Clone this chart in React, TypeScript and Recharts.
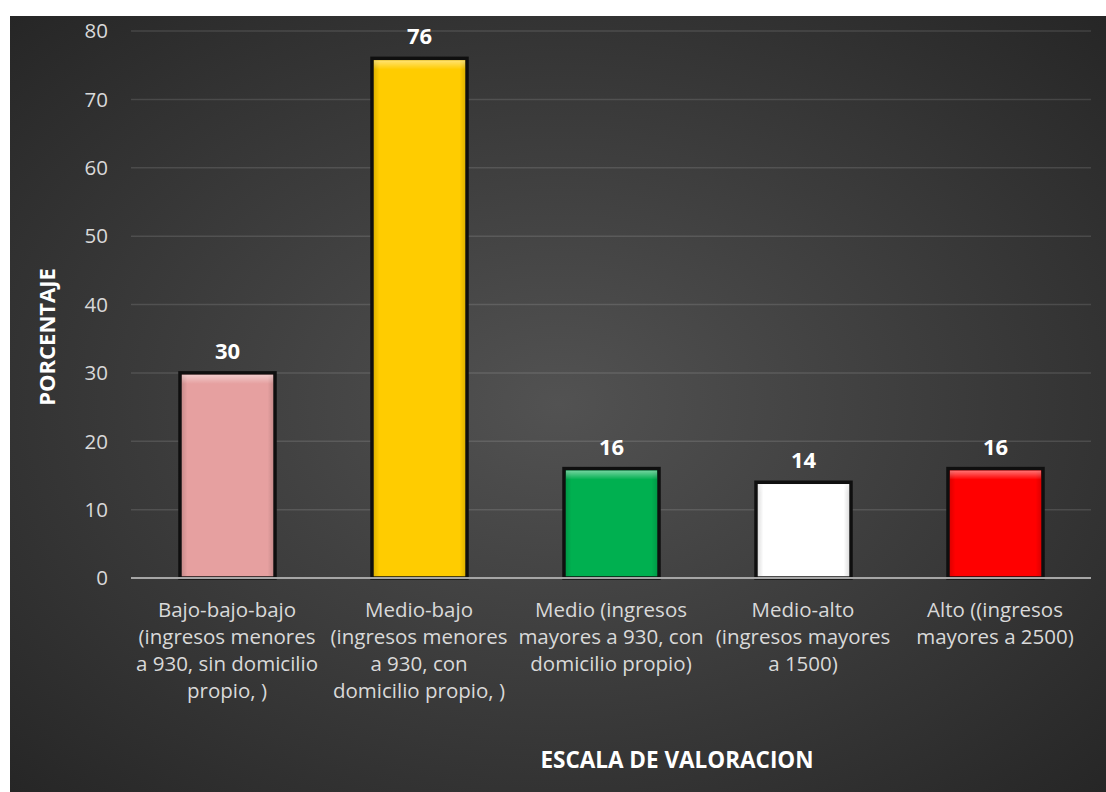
import React from 'react';
import { BarChart, Bar, XAxis, YAxis, CartesianGrid, Cell, LabelList, Label } from 'recharts';

const categories = ['Bajo-bajo-bajo', 'Medio-bajo', 'Medio', 'Medio-alto', 'Alto'];
const tickLines: string[][] = [
  ['Bajo-bajo-bajo', '(ingresos menores', 'a 930, sin domicilio', 'propio, )'],
  ['Medio-bajo', '(ingresos menores', 'a 930, con', 'domicilio propio, )'],
  ['Medio (ingresos', 'mayores a 930, con', 'domicilio propio)'],
  ['Medio-alto', '(ingresos mayores', 'a 1500)'],
  ['Alto ((ingresos', 'mayores a 2500)'],
];
const values = [30, 76, 16, 14, 16];
const barColors = ['#E6A0A0', '#FFCC00', '#00B050', '#FFFFFF', '#FF0000'];
const yTicks = [0, 10, 20, 30, 40, 50, 60, 70, 80];
const xTitle = 'ESCALA DE VALORACION';
const yTitle = 'PORCENTAJE';

const data = categories.map((c, i) => ({ name: c, value: values[i] }));

const FONT = '"Open Sans", "DejaVu Sans", sans-serif';

const XTick = (props: any) => {
  const { x, y, payload } = props;
  const idx = categories.indexOf(payload.value);
  const lines = tickLines[idx] || [payload.value];
  return (
    <text x={x} y={y} textAnchor="middle" fill="#d9d9d9" fontSize={20.5} fontFamily={FONT}>
      {lines.map((l, i) => (
        <tspan key={i} x={x} dy={i === 0 ? 39 : 27}>
          {l}
        </tspan>
      ))}
    </text>
  );
};

const BevelBar = (props: any) => {
  const { x, y, width, height, fill } = props;
  if (!width || !height) return null;
  return (
    <g>
      <rect x={x} y={y} width={width} height={height} fill={fill} stroke="#0f0f0f" strokeWidth={3.5} />
      <rect x={x + 2} y={y + 2} width={width - 4} height={Math.max(0, height - 4)} fill="url(#bevelSide)" />
      <rect x={x + 2} y={y + 2} width={width - 4} height={Math.min(9, Math.max(0, height - 4))} fill="url(#bevelTop)" />
    </g>
  );
};

export default function App() {
  return (
    <div
      style={{
        position: 'absolute',
        left: 10,
        top: 16,
        width: 1096,
        height: 776,
        background: 'radial-gradient(ellipse farthest-corner at 50% 50%, #525252 0%, #262626 100%)',
      }}
    >
      <svg width={0} height={0} style={{ position: 'absolute' }}>
        <defs>
          <linearGradient id="bevelTop" x1="0" y1="0" x2="0" y2="1">
            <stop offset="0%" stopColor="#ffffff" stopOpacity={0.45} />
            <stop offset="100%" stopColor="#ffffff" stopOpacity={0} />
          </linearGradient>
          <linearGradient id="bevelSide" x1="0" y1="0" x2="1" y2="0">
            <stop offset="0%" stopColor="#000000" stopOpacity={0.12} />
            <stop offset="6%" stopColor="#000000" stopOpacity={0} />
            <stop offset="94%" stopColor="#000000" stopOpacity={0} />
            <stop offset="100%" stopColor="#000000" stopOpacity={0.12} />
          </linearGradient>
        </defs>
      </svg>
      <BarChart
        width={1096}
        height={776}
        data={data}
        margin={{ top: 15, right: 15, bottom: 0, left: 0 }}
        barSize={95}
      >
        <CartesianGrid vertical={false} stroke="rgba(255,255,255,0.12)" strokeWidth={1.5} />
        <YAxis
          width={121}
          domain={[0, 80]}
          ticks={yTicks}
          interval={0}
          axisLine={false}
          tickLine={false}
          tickSize={0}
          tickMargin={23}
          tick={{ fill: '#d9d9d9', fontSize: 20.5, fontFamily: FONT }}
        >
          <Label
            content={() => (
              <text
                x={0}
                y={0}
                transform="translate(45, 321) rotate(-90)"
                textAnchor="middle"
                fill="#ffffff"
                fontSize={22}
                fontWeight="bold"
                fontFamily={FONT}
              >
                {yTitle}
              </text>
            )}
          />
        </YAxis>
        <XAxis
          dataKey="name"
          height={214}
          interval={0}
          axisLine={{ stroke: '#a6a6a6', strokeWidth: 2 }}
          tickLine={false}
          tickSize={0}
          tickMargin={0}
          tick={<XTick />}
        >
          <Label
            content={() => (
              <text
                x={667}
                y={752}
                textAnchor="middle"
                fill="#ffffff"
                fontSize={22.5}
                fontWeight="bold"
                fontFamily={FONT}
              >
                {xTitle}
              </text>
            )}
          />
        </XAxis>
        <Bar dataKey="value" isAnimationActive={false} shape={<BevelBar />}>
          {data.map((d, i) => (
            <Cell key={i} fill={barColors[i]} />
          ))}
          <LabelList
            dataKey="value"
            position="top"
            offset={14}
            fill="#ffffff"
            fontSize={22}
            fontWeight="bold"
            fontFamily={FONT}
          />
        </Bar>
      </BarChart>
    </div>
  );
}
